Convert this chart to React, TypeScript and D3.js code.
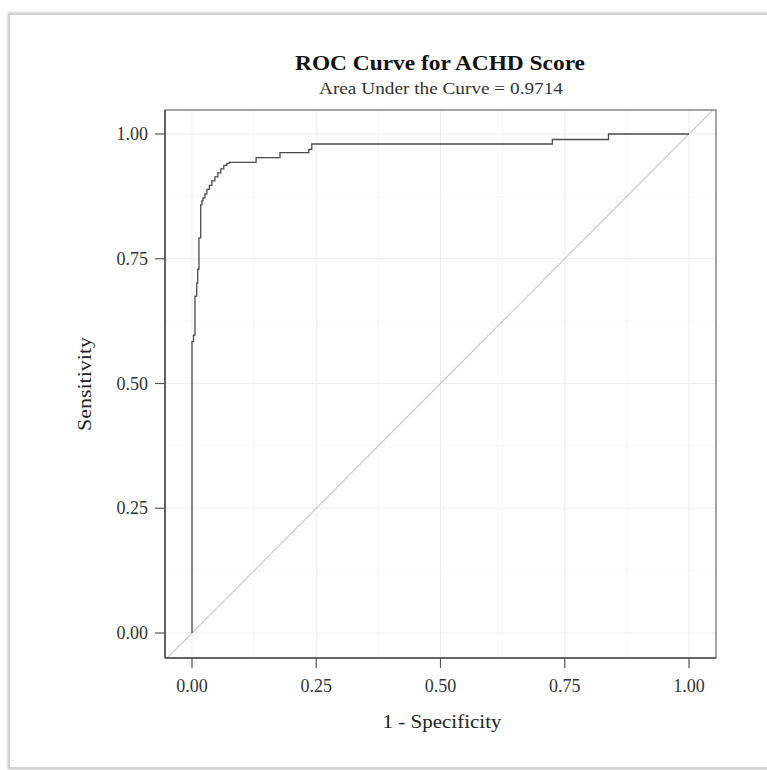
import React from 'react';
import * as d3 from 'd3';

// ROC curve vertices (1 - specificity, sensitivity)
const fpr = [0, 0, 0.003, 0.003, 0.006, 0.006, 0.0095, 0.0095, 0.0115, 0.0115, 0.014, 0.014, 0.0175, 0.0175,
    0.020, 0.020, 0.022, 0.022, 0.026, 0.026, 0.030, 0.030, 0.035, 0.035, 0.040, 0.040, 0.046, 0.046,
    0.052, 0.052, 0.058, 0.058, 0.064, 0.064, 0.070, 0.070, 0.075, 0.075, 0.129, 0.129, 0.177, 0.177,
    0.235, 0.235, 0.241, 0.241, 0.725, 0.725, 0.838, 0.838, 1];
const tpr = [0, 0.584, 0.584, 0.597, 0.597, 0.675, 0.675, 0.701, 0.701, 0.729, 0.729, 0.792, 0.792, 0.858,
    0.858, 0.866, 0.866, 0.872, 0.872, 0.880, 0.880, 0.889, 0.889, 0.897, 0.897, 0.906, 0.906, 0.914,
    0.914, 0.922, 0.922, 0.930, 0.930, 0.937, 0.937, 0.941, 0.941, 0.943, 0.943, 0.9525, 0.9525, 0.9625,
    0.9625, 0.969, 0.969, 0.980, 0.980, 0.989, 0.989, 1.0, 1.0];

const majorTicks = [0, 0.25, 0.5, 0.75, 1];
const minorTicks = [0.125, 0.375, 0.625, 0.875];
const tickLabels = ['0.00', '0.25', '0.50', '0.75', '1.00'];

const title = 'ROC Curve for ACHD Score';
const subtitle = 'Area Under the Curve = 0.9714';
const xTitle = '1 - Specificity';
const yTitle = 'Sensitivity';

const W = 767;
const H = 770;
const panel = { left: 165, right: 716, top: 110, bottom: 658 };
const font = '"Liberation Serif", "DejaVu Serif", serif';

const App = () => {
    const x = d3.scaleLinear().domain([0, 1]).range([192, 689]);
    const y = d3.scaleLinear().domain([0, 1]).range([633, 134]);

    const pts: [number, number][] = fpr.map((f, i) => [f, tpr[i]]);
    const line = d3.line<[number, number]>()
        .x(d => x(d[0]))
        .y(d => y(d[1]));

    // diagonal reference line, clipped to the panel
    const xLo = x.invert(panel.left), xHi = x.invert(panel.right);

    return (
        <svg width={W} height={H} style={{ position: 'absolute', left: 0, top: 0, background: '#fff' }}>
            <defs>
                <filter id="frame-blur" x="-5%" y="-5%" width="110%" height="110%">
                    <feGaussianBlur stdDeviation="1.2" />
                </filter>
                <clipPath id="panel-clip">
                    <rect x={panel.left} y={panel.top} width={panel.right - panel.left} height={panel.bottom - panel.top} />
                </clipPath>
            </defs>

            {/* outer frame with a soft shadow */}
            <rect x={9} y={14} width={W + 20} height={H - 16} fill="none" stroke="#bdbdbd" strokeWidth={2.5} filter="url(#frame-blur)" />
            <rect x={10} y={15} width={W + 20} height={H - 18} fill="#fff" />

            {/* grid */}
            <g>
                {minorTicks.map(t => (
                    <g key={'mn' + t}>
                        <line x1={x(t)} x2={x(t)} y1={panel.top} y2={panel.bottom} stroke="#f6f6f6" strokeWidth={1} />
                        <line x1={panel.left} x2={panel.right} y1={y(t)} y2={y(t)} stroke="#f6f6f6" strokeWidth={1} />
                    </g>
                ))}
                {majorTicks.map(t => (
                    <g key={'mj' + t}>
                        <line x1={x(t)} x2={x(t)} y1={panel.top} y2={panel.bottom} stroke="#ececec" strokeWidth={1} />
                        <line x1={panel.left} x2={panel.right} y1={y(t)} y2={y(t)} stroke="#ececec" strokeWidth={1} />
                    </g>
                ))}
            </g>

            <g clipPath="url(#panel-clip)">
                <line x1={x(xLo)} y1={y(xLo)} x2={x(xHi)} y2={y(xHi)} stroke="#c8c8c8" strokeWidth={1.2} />
                <path d={line(pts) || ''} fill="none" stroke="#4a4a4a" strokeWidth={1.3} />
            </g>

            {/* panel border */}
            <rect x={panel.left} y={panel.top} width={panel.right - panel.left} height={panel.bottom - panel.top}
                fill="none" stroke="#6a6a6a" strokeWidth={1.2} />
            <line x1={panel.left} x2={panel.left} y1={panel.top} y2={panel.bottom} stroke="#505050" strokeWidth={1.6} />
            <line x1={panel.left} x2={panel.right} y1={panel.bottom} y2={panel.bottom} stroke="#505050" strokeWidth={1.6} />

            {/* ticks and labels */}
            {majorTicks.map((t, i) => (
                <g key={'tx' + t}>
                    <line x1={x(t)} x2={x(t)} y1={panel.bottom} y2={panel.bottom + 10} stroke="#555" strokeWidth={1.2} />
                    <text x={x(t)} y={692} textAnchor="middle" fontFamily={font} fontSize={18} fill="#333">{tickLabels[i]}</text>
                    <line x1={panel.left - 10} x2={panel.left} y1={y(t)} y2={y(t)} stroke="#555" strokeWidth={1.2} />
                    <text x={148} y={y(t) + 6} textAnchor="end" fontFamily={font} fontSize={18} fill="#333">{tickLabels[i]}</text>
                </g>
            ))}

            {/* titles (the source is slightly stretched horizontally) */}
            <text x={440} y={70} textAnchor="middle" fontFamily={font} fontSize={22} fontWeight="bold" fill="#111"
                textLength={290} lengthAdjust="spacingAndGlyphs">{title}</text>
            <text x={441} y={94} textAnchor="middle" fontFamily={font} fontSize={17} fill="#333"
                textLength={244} lengthAdjust="spacingAndGlyphs">{subtitle}</text>
            <text x={442} y={728} textAnchor="middle" fontFamily={font} fontSize={19} fill="#222"
                textLength={119} lengthAdjust="spacingAndGlyphs">{xTitle}</text>
            <text transform={`translate(91, 384) rotate(-90)`} textAnchor="middle" fontFamily={font} fontSize={19} fill="#222"
                textLength={94} lengthAdjust="spacingAndGlyphs">{yTitle}</text>
        </svg>
    );
};

export default App;
